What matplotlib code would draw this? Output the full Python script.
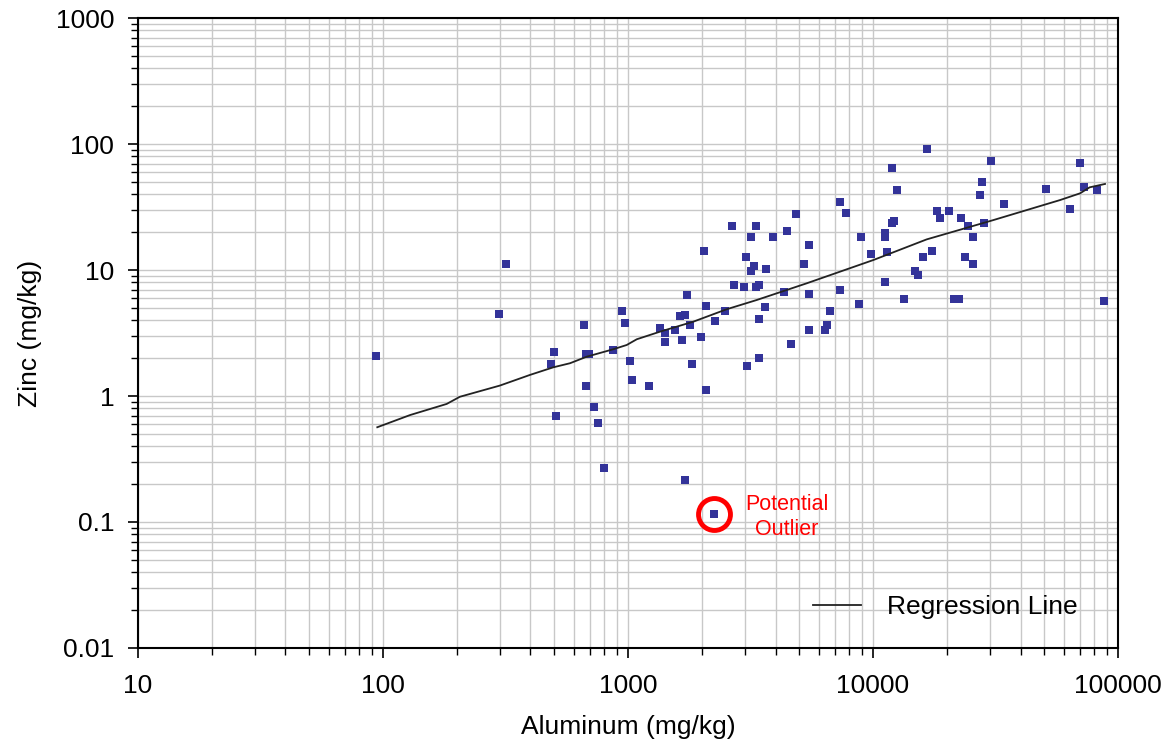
import numpy as np
import matplotlib
matplotlib.use("Agg")
import matplotlib.pyplot as plt
from matplotlib.ticker import LogLocator, FuncFormatter, NullFormatter

plt.rcParams['font.family'] = ['Liberation Sans', 'DejaVu Sans']

# sample data: aluminum vs zinc (mg/kg)
aluminum = [94, 318, 298, 500, 483, 508, 659, 672, 693, 672, 729, 752, 800,
            943, 975, 866, 1022, 1038, 1222, 1347, 1412, 1412, 1556, 1656,
            1630, 1714, 1741, 1796, 1830, 1709, 1981, 2081, 2081, 2049, 2259,
            2489, 2700, 2973, 3021, 3280, 3170, 3330, 3435, 3070, 3435, 3435,
            2657, 3177, 3330, 3613, 3668, 3919, 4322, 4457, 4614, 4833, 5245,
            5495, 5495, 5495, 6368, 6473, 6671, 7357, 7740, 7357, 8791, 8933,
            9842, 11230, 11230, 11410, 11230, 11990, 12560, 11990, 12180,
            13430, 14800, 15270, 16040, 17370, 16560, 18200, 18770, 20430,
            21470, 22510, 22870, 23670, 24430, 25650, 25650, 27420, 27860,
            28310, 30200, 34350, 50700, 63700, 69980, 72440, 82370, 87900,
            2250]
zinc = [2.09, 11.1, 4.48, 2.22, 1.79, 0.694, 3.68, 2.15, 2.15, 1.19, 0.813,
        0.614, 0.268, 4.75, 3.80, 2.31, 1.91, 1.35, 1.19, 3.47, 3.16, 2.70,
        3.34, 2.78, 4.29, 4.42, 6.30, 3.68, 1.79, 0.217, 2.96, 5.21, 1.11,
        14.2, 3.91, 4.75, 7.60, 7.37, 12.6, 10.8, 9.82, 7.37, 7.60, 1.73,
        4.06, 2.01, 22.2, 18.4, 22.2, 5.06, 10.1, 18.4, 6.69, 20.3, 2.60,
        27.7, 11.1, 15.7, 6.49, 3.36, 3.36, 3.68, 4.75, 34.5, 28.5, 6.90,
        5.37, 18.4, 13.4, 19.6, 18.4, 13.8, 8.08, 64.9, 43.2, 23.6, 24.4,
        5.92, 9.82, 9.18, 12.6, 14.2, 91.8, 29.4, 26.0, 29.4, 5.92, 5.92,
        26.0, 12.6, 22.2, 18.4, 11.1, 39.2, 50.2, 23.6, 73.3, 33.4, 44.2,
        30.5, 71.1, 45.8, 43.2, 5.71, 0.115]

# regression line
reg_al = [94.8, 129, 182, 206, 300, 398, 496, 580, 678, 871, 988, 1086, 1351,
          1848, 2528, 3353, 5361, 10030, 16560, 30980, 57980, 69980, 76560,
          88500]
reg_zn = [0.565, 0.706, 0.865, 0.986, 1.21, 1.47, 1.69, 1.82, 2.05, 2.35,
          2.54, 2.82, 3.24, 3.89, 4.88, 5.78, 7.84, 12.0, 17.5, 24.9, 35.9,
          40.6, 45.3, 48.2]

outlier_al = 2250
outlier_zn = 0.115

fig = plt.figure(figsize=(11.76, 7.54), dpi=100)
ax = fig.add_axes([0.1173, 0.1406, 0.8334, 0.8355])

ax.set_xscale('log')
ax.set_yscale('log')
ax.set_xlim(10, 100000)
ax.set_ylim(0.01, 1000)

ax.plot(aluminum, zinc, 's', color='#333399', markersize=5.2,
        markeredgewidth=0, zorder=3)
ax.plot(reg_al, reg_zn, '-', color='#222222', linewidth=1.3,
        label='Regression Line', zorder=4)

# highlight outlier
ax.plot(outlier_al, outlier_zn, 'o', markersize=23, markerfacecolor='none',
        markeredgecolor='#ff0000', markeredgewidth=3.5, zorder=5)
ax.text(4460, 0.109, 'Potential\nOutlier', color='#ff0000', fontsize=15.5,
        ha='center', va='center', linespacing=1.25)

ax.xaxis.set_major_locator(LogLocator(base=10, numticks=10))
ax.yaxis.set_major_locator(LogLocator(base=10, numticks=10))
ax.xaxis.set_minor_locator(LogLocator(base=10, subs=np.arange(2, 10), numticks=20))
ax.yaxis.set_minor_locator(LogLocator(base=10, subs=np.arange(2, 10), numticks=20))
ax.xaxis.set_major_formatter(FuncFormatter(lambda v, p: '{:g}'.format(v)))
ax.yaxis.set_major_formatter(FuncFormatter(lambda v, p: '{:g}'.format(v)))
ax.xaxis.set_minor_formatter(NullFormatter())
ax.yaxis.set_minor_formatter(NullFormatter())

ax.grid(True, which='both', color='#c8c8c8', linewidth=1.0)
ax.set_axisbelow(True)

ax.tick_params(which='major', direction='out', length=7, width=1.2,
               labelsize=19, pad=10)
ax.tick_params(which='minor', direction='out', length=5, width=1.0)
ax.tick_params(axis='x', which='major', pad=12)
for s in ax.spines.values():
    s.set_linewidth(1.5)
    s.set_color('black')

ax.set_xlabel('Aluminum (mg/kg)', fontsize=19, labelpad=12)
ax.set_ylabel('Zinc (mg/kg)', fontsize=19, labelpad=10)

ax.legend(loc='lower right', frameon=False, fontsize=19, handlelength=1.8,
          handletextpad=1.0, bbox_to_anchor=(0.983, 0.008))

fig.savefig('out.png', dpi=100)
